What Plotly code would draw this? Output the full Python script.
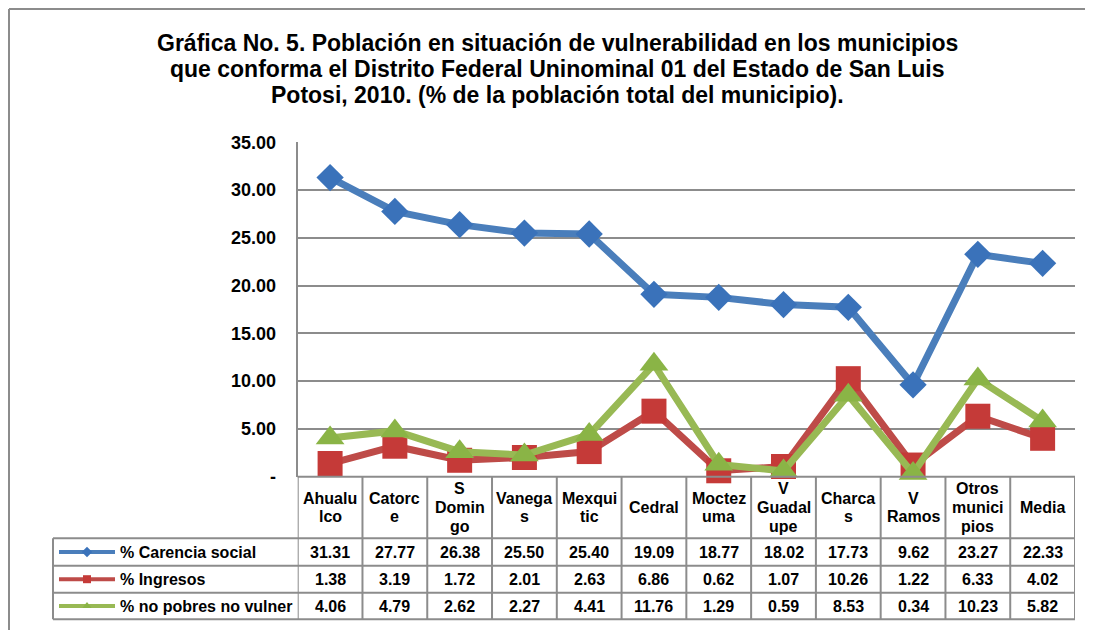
import plotly.graph_objects as go

# ---------------- data ----------------
municipios = ["Ahualu<br>lco", "Catorc<br>e", "S<br>Domin<br>go", "Vanega<br>s", "Mexqui<br>tic",
              "Cedral", "Moctez<br>uma", "V<br>Guadal<br>upe", "Charca<br>s", "V<br>Ramos",
              "Otros<br>munici<br>pios", "Media"]
carencia_social = [31.31, 27.77, 26.38, 25.50, 25.40, 19.09, 18.77, 18.02, 17.73, 9.62, 23.27, 22.33]
ingresos = [1.38, 3.19, 1.72, 2.01, 2.63, 6.86, 0.62, 1.07, 10.26, 1.22, 6.33, 4.02]
no_pobres = [4.06, 4.79, 2.62, 2.27, 4.41, 11.76, 1.29, 0.59, 8.53, 0.34, 10.23, 5.82]
series_names = ["% Carencia social", "% Ingresos", "% no pobres no vulner"]
y_ticks = [0, 5, 10, 15, 20, 25, 30, 35]
y_ticktext = ["-", "5.00", "10.00", "15.00", "20.00", "25.00", "30.00", "35.00"]
title_lines = ["Gráfica No. 5. Población en situación de vulnerabilidad en los municipios",
               "que conforma el Distrito Federal Uninominal 01 del Estado de San Luis",
               "Potosi, 2010. (% de la población total del municipio)."]

# ---------------- layout constants (page pixels) ----------------
W, H = 1093, 630
OFF = 8  # page body margin offset
PL, PR, PT, PB = 297.7, 1075.0, 142.3, 476.7
TBL_LEFT = 53.0
ROW_Y = [PB, 538.3, 565.7, 592.7, 619.3]
FONT = "Liberation Sans, Arial, sans-serif"
GRID = "#8c8c8c"

line_colors = ["#4a7ebb", "#be4b48", "#98b954"]
marker_colors = ["#3a72ba", "#c53a38", "#8ab446"]
symbols = ["diamond", "square", "triangle-up"]
msizes = [21, 25, 25]


def fx(p):
    return (p - OFF) / W


def fy(p):
    return 1 - (p - OFF) / H


fig = go.Figure()
n = len(municipios)
xs = list(range(n))

for vals, name, lc, mc, sym, ms in zip([carencia_social, ingresos, no_pobres], series_names,
                                       line_colors, marker_colors, symbols, msizes):
    fig.add_trace(go.Scatter(
        x=xs, y=vals, name=name, mode="lines+markers",
        line=dict(color=lc, width=7),
        marker=dict(symbol=sym, size=ms, color=mc, line=dict(width=0)),
        cliponaxis=False, showlegend=False,
        xaxis="x", yaxis="y"))

# legend keys inside the table (overlay pixel axis)
for i, (lc, mc, sym) in enumerate(zip(line_colors, marker_colors, symbols)):
    yc = (ROW_Y[i + 1] + ROW_Y[i + 2]) / 2
    fig.add_trace(go.Scatter(x=[59, 115], y=[yc, yc], mode="lines",
                             line=dict(color=lc, width=4), showlegend=False,
                             xaxis="x2", yaxis="y2", hoverinfo="skip"))
    fig.add_trace(go.Scatter(x=[87], y=[yc], mode="markers",
                             marker=dict(symbol=sym, size=8, color=mc),
                             showlegend=False, xaxis="x2", yaxis="y2", hoverinfo="skip"))

shapes = []
line = dict(color=GRID, width=2)
# outer frame
shapes.append(dict(type="line", xref="paper", yref="paper", x0=fx(9), x1=1, y0=fy(9), y1=fy(9), line=line))
shapes.append(dict(type="line", xref="paper", yref="paper", x0=fx(9), x1=fx(9), y0=fy(9), y1=0, line=line))
# table horizontal lines
shapes.append(dict(type="line", xref="paper", yref="paper", x0=fx(PL), x1=fx(PR), y0=fy(PB), y1=fy(PB), line=line))
for yy in ROW_Y[1:]:
    shapes.append(dict(type="line", xref="paper", yref="paper", x0=fx(TBL_LEFT), x1=fx(PR),
                       y0=fy(yy), y1=fy(yy), line=line))
shapes.append(dict(type="line", xref="paper", yref="paper", x0=fx(TBL_LEFT), x1=fx(TBL_LEFT),
                   y0=fy(ROW_Y[1]), y1=fy(ROW_Y[-1]), line=line))
# table vertical lines (column boundaries on the category axis)
for k in range(n + 1):
    shapes.append(dict(type="line", xref="x", yref="paper", x0=k - 0.5, x1=k - 0.5,
                       y0=fy(PB), y1=fy(ROW_Y[-1]), line=line))

annotations = []
# title
for j, (t, yc) in enumerate(zip(title_lines, [43, 69, 95])):
    annotations.append(dict(text="<b>%s</b>" % t, xref="paper", yref="paper", x=fx(557), y=fy(yc),
                            xanchor="center", yanchor="middle", showarrow=False,
                            font=dict(family=FONT, size=23, color="black")))
# header labels
hc = (ROW_Y[0] + ROW_Y[1]) / 2
for i, lab in enumerate(municipios):
    parts = lab.split("<br>")
    m = len(parts)
    for j, p in enumerate(parts):
        yc = hc + (j - (m - 1) / 2) * 18.5
        annotations.append(dict(text="<b>%s</b>" % p, xref="x", yref="paper", x=i, y=fy(yc),
                                xanchor="center", yanchor="middle", showarrow=False,
                                font=dict(family=FONT, size=16, color="black")))
# data rows
for r, (vals, name) in enumerate(zip([carencia_social, ingresos, no_pobres], series_names)):
    yc = (ROW_Y[r + 1] + ROW_Y[r + 2]) / 2
    annotations.append(dict(text="<b>%s</b>" % name, xref="paper", yref="paper", x=fx(118), y=fy(yc),
                            xanchor="left", yanchor="middle", showarrow=False,
                            font=dict(family=FONT, size=16, color="black")))
    for i, v in enumerate(vals):
        annotations.append(dict(text="<b>%.2f</b>" % v, xref="x", yref="paper", x=i, y=fy(yc),
                                xanchor="center", yanchor="middle", showarrow=False,
                                font=dict(family=FONT, size=16, color="black")))

fig.update_layout(
    width=W, height=H, autosize=False,
    margin=dict(l=0, r=0, t=0, b=0, pad=0, autoexpand=False),
    paper_bgcolor="white", plot_bgcolor="rgba(0,0,0,0)",
    xaxis=dict(domain=[fx(PL), fx(PR)], range=[-0.5, n - 0.5], showgrid=False, zeroline=False,
               showticklabels=False, showline=False, fixedrange=True, automargin=False),
    yaxis=dict(domain=[fy(PB), fy(PT)], range=[0, 35], tickvals=y_ticks, ticktext=y_ticktext,
               showgrid=True, gridcolor=GRID, gridwidth=2, zeroline=False,
               showline=True, linecolor=GRID, linewidth=2, automargin=False,
               ticks="", ticklabelstandoff=16,
               tickfont=dict(family=FONT, size=18, color="black", weight="bold")),
    xaxis2=dict(domain=[0, 1], range=[OFF, W + OFF], visible=False, anchor="y2", automargin=False),
    yaxis2=dict(domain=[0, 1], range=[H + OFF, OFF], visible=False, anchor="x2", automargin=False),
    shapes=shapes, annotations=annotations,
    showlegend=False,
)

fig.write_html("out.html")
